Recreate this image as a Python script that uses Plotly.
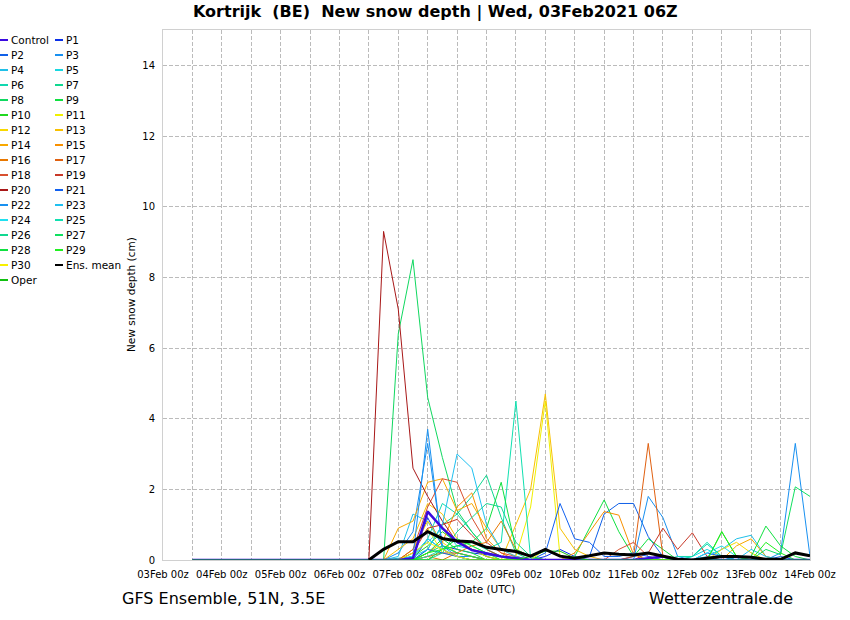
import pandas as pd
import plotly.graph_objects as go

# 6-hourly steps, 03Feb 12z .. 14Feb 00z
times = pd.date_range("2021-02-03 12:00", periods=43, freq="6h")

# new snow depth (cm), one list per member
#          03Feb   04Feb         05Feb         06Feb             07Feb                 08Feb                  09Feb                10Feb                  11Feb                 12Feb               13Feb                 14Feb
control = [0, 0,  0, 0, 0, 0,  0, 0, 0, 0,  0, 0, 0, 0,      0, 0.05, 1.37, 0.9,   0.52, 0.28, 0.2, 0.1,  0.05, 0, 0, 0,       0, 0, 0, 0,           0, 0.05, 0.1, 0,     0, 0, 0, 0,         0, 0, 0, 0,           0]
p1 = [0, 0,  0, 0, 0, 0,  0, 0, 0, 0,  0, 0, 0, 0,      0, 0.1, 1.2, 0.4,     0.3, 0.2, 0.15, 0.1,   0, 0, 0.1, 0.3,       0.1, 0, 0, 0,         0.1, 0.2, 0.1, 0,    0, 0, 0.1, 0,       0, 0, 0, 0,           0]
p2 = [0, 0,  0, 0, 0, 0,  0, 0, 0, 0,  0, 0, 0, 0,      0, 0, 0.6, 0.3,       0.1, 0.1, 0, 0,        0, 0, 0, 0,           0, 0.1, 1.3, 1.6,     1.6, 0.66, 0.1, 0,   0, 0, 0, 0,         0, 0, 0.1, 0,         0]
p3 = [0, 0,  0, 0, 0, 0,  0, 0, 0, 0,  0, 0, 0, 0,      0.2, 0.8, 3.3, 0.4,   0.1, 0.1, 0, 0,        0, 0, 0, 0,           0, 0, 0, 0,           0, 1.8, 1.2, 0.1,    0, 0, 0, 0,         0, 0, 0, 0,           0]
p4 = [0, 0,  0, 0, 0, 0,  0, 0, 0, 0,  0, 0, 0, 0,      0.1, 1.3, 1.1, 0.4,   0.2, 0.1, 0, 0,        0, 0, 0, 0,           0, 0, 0, 0,           0, 0, 0, 0,          0, 0.1, 0.3, 0.6,   0.7, 0.1, 0, 0,       0]
p5 = [0, 0,  0, 0, 0, 0,  0, 0, 0, 0,  0, 0, 0, 0,      0, 0.2, 0.5, 0.9,     0.4, 0.3, 0.1, 0,      0.1, 0, 0, 0,         0, 0, 0, 0,           0, 0, 0, 0,          0.1, 0.3, 0.1, 0,   0, 0, 0, 0,           0]
p6 = [0, 0,  0, 0, 0, 0,  0, 0, 0, 0,  0, 0, 0, 0,      0.05, 0.1, 0.6, 1.6,  1.3, 0.8, 0.3, 0.1,    0, 0, 0, 0,           0, 0, 0, 0,           0, 0, 0, 0.1,        0.1, 0.45, 0.1, 0,  0, 0, 0, 0,           0]
p7 = [0, 0,  0, 0, 0, 0,  0, 0, 0, 0,  0, 0, 0, 0,      0, 0, 0.3, 1.0,       1.3, 1.8, 2.4, 1.2,    0.2, 0, 0, 0,         0, 0, 0, 0,           0, 0, 0, 0,          0, 0, 0, 0,         0, 0, 0, 0,           0]
p8 = [0, 0,  0, 0, 0, 0,  0, 0, 0, 0,  0, 0, 0, 0,      6.4, 8.5, 4.6, 2.9,   1.4, 0.8, 0.3, 0.1,    0, 0, 0, 0,           0, 0, 0, 0,           0, 0, 0, 0,          0, 0, 0, 0,         0, 0, 0, 0,           0]
p9 = [0, 0,  0, 0, 0, 0,  0, 0, 0, 0,  0, 0, 0, 0,      0, 0, 0.2, 0.6,       0.3, 0.2, 0, 0,        0, 0, 0, 0,           0.1, 0.9, 1.7, 0.8,   0.1, 0.6, 0.3, 0,    0, 0, 0, 0,         0, 0, 0, 0,           0]
p10 = [0, 0,  0, 0, 0, 0,  0, 0, 0, 0,  0, 0, 0, 0,     0, 0.1, 0.4, 0.8,     0.5, 0.3, 0.1, 0,      0, 0, 0, 0,           0, 0, 0, 0,           0, 0, 0, 0,          0, 0, 0.8, 0.1,     0, 0, 0, 0,           0]
p11 = [0, 0,  0, 0, 0, 0,  0, 0, 0, 0,  0, 0, 0, 0,     0, 0.3, 0.9, 0.2,     0.1, 0, 0, 0,          0.1, 1.5, 4.5, 0.1,   0.05, 0, 0, 0,        0, 0, 0, 0,          0, 0, 0, 0,         0, 0, 0, 0,           0]
p12 = [0, 0,  0, 0, 0, 0,  0, 0, 0, 0,  0, 0, 0, 0,     0, 0.3, 1.1, 0.5,     0.2, 0.1, 0, 0,        0, 0, 0, 0,           0, 0, 0, 0,           0, 0, 0, 0,          0, 0, 0.3, 0.5,     0.2, 0, 0, 0,         0]
p13 = [0, 0,  0, 0, 0, 0,  0, 0, 0, 0,  0, 0, 0, 0,     0.3, 0.6, 1.6, 1.3,   0.6, 0.3, 0.1, 0,      1.0, 2.0, 4.7, 0.9,   0.3, 0.1, 0, 0,       0, 0, 0, 0,          0, 0, 0, 0,         0, 0, 0, 0,           0]
p14 = [0, 0,  0, 0, 0, 0,  0, 0, 0, 0,  0, 0, 0, 0,     0.9, 1.1, 2.2, 2.3,   1.4, 1.6, 0.9, 0.3,    0.1, 0, 0, 0,         0, 0, 0, 0,           0, 0, 0, 0,          0, 0, 0, 0.4,       0.6, 0.1, 0, 0,       0]
p15 = [0, 0,  0, 0, 0, 0,  0, 0, 0, 0,  0, 0, 0, 0,     0, 0, 0.2, 0.5,       1.5, 1.9, 0.6, 0.2,    0, 0, 0, 0,           0.2, 0.8, 1.37, 1.27, 0.15, 0, 0, 0,       0, 0, 0, 0,         0, 0, 0, 0,           0]
p16 = [0, 0,  0, 0, 0, 0,  0, 0, 0, 0,  0, 0, 0, 0,     0, 0, 0.1, 0,         0.2, 0.4, 0.5, 1.1,    0.3, 0.1, 0, 0,       0, 0, 0, 0,           0, 0, 0, 0,          0, 0, 0, 0,         0, 0, 0, 0,           0]
p17 = [0, 0,  0, 0, 0, 0,  0, 0, 0, 0,  0, 0, 0, 0,     0, 0, 0.1, 0.2,       0.2, 0.1, 0, 0,        0, 0, 0, 0,           0, 0, 0, 0,           0.1, 3.3, 0.1, 0,    0, 0, 0, 0,         0, 0, 0, 0,           0]
p18 = [0, 0,  0, 0, 0, 0,  0, 0, 0, 0,  0, 0, 0, 0,     0, 0.3, 1.5, 2.3,     2.2, 1.2, 0.5, 0.2,    0.1, 0, 0, 0,         0, 0, 0, 0.3,         0.5, 0.1, 0, 0,      0, 0, 0, 0,         0, 0, 0, 0,           0]
p19 = [0, 0,  0, 0, 0, 0,  0, 0, 0, 0,  0, 0, 0, 0,     0, 0.2, 0.9, 1.0,     1.15, 0.7, 0.3, 0.1,   0, 0, 0, 0,           0, 0, 0, 0,           0, 0.2, 0.9, 0.3,    0.77, 0.1, 0, 0,    0, 0, 0, 0,           0]
p20 = [0, 0,  0, 0, 0, 0,  0, 0, 0, 0,  0, 0, 0, 9.3,   7.1, 2.6, 1.8, 1.1,   0.5, 0.3, 0.2, 0.1,    0, 0, 0, 0,           0, 0, 0, 0,           0, 0, 0, 0,          0, 0, 0, 0,         0, 0, 0, 0,           0]
p21 = [0, 0,  0, 0, 0, 0,  0, 0, 0, 0,  0, 0, 0, 0,     0, 0, 0.3, 0.2,       0.1, 0, 0, 0,          0, 0, 0.2, 1.6,       0.6, 0.5, 0.1, 0.1,   0.2, 0.1, 0, 0,      0, 0.2, 0.1, 0,     0, 0, 0, 0,           0]
p22 = [0, 0,  0, 0, 0, 0,  0, 0, 0, 0,  0, 0, 0, 0,     0, 0.1, 3.7, 0.3,     0.1, 0, 0, 0,          0, 0, 0, 0,           0, 0, 0, 0,           0, 0, 0, 0,          0, 0, 0, 0,         0, 0, 0.2, 3.3,       0.1]
p23 = [0, 0,  0, 0, 0, 0,  0, 0, 0, 0,  0, 0, 0, 0,     0, 0.1, 0.3, 1.0,     3.0, 2.6, 1.0, 0.3,    0.1, 0, 0, 0,         0, 0, 0, 0,           0, 0, 0, 0,          0, 0, 0, 0,         0.3, 0.1, 0, 0,       0]
p24 = [0, 0,  0, 0, 0, 0,  0, 0, 0, 0,  0, 0, 0, 0,     0, 0.1, 0.6, 0.3,     0.6, 0.4, 0.2, 0.1,    0, 0, 0, 0,           0, 0, 0, 0,           0, 0, 0, 0,          0, 0.2, 0.4, 0.1,   0, 0, 0, 0,           0]
p25 = [0, 0,  0, 0, 0, 0,  0, 0, 0, 0,  0, 0, 0, 0,     0, 0, 0.1, 0.3,       0.4, 0.5, 0.3, 0.5,    4.5, 0.05, 0, 0,      0, 0, 0, 0,           0, 0, 0, 0,          0.1, 0.5, 0.1, 0,   0, 0, 0, 0,           0]
p26 = [0, 0,  0, 0, 0, 0,  0, 0, 0, 0,  0, 0, 0, 0,     0, 0, 0, 0.2,         0.8, 1.2, 1.6, 1.5,    0.5, 0.1, 0, 0,       0, 0, 0, 0,           0, 0, 0, 0,          0, 0, 0, 0,         0, 0, 0, 0,           0]
p27 = [0, 0,  0, 0, 0, 0,  0, 0, 0, 0,  0, 0, 0, 0,     0, 0, 0.2, 0.4,       0.2, 0.1, 0, 0,        0, 0, 0, 0,           0, 0, 0, 0,           0, 0, 0, 0,          0, 0, 0, 0,         0, 0.3, 0.15, 2.07,   1.8]
p28 = [0, 0,  0, 0, 0, 0,  0, 0, 0, 0,  0, 0, 0, 0,     0, 0, 0, 0.3,         0.4, 0.5, 0.9, 2.2,    0.3, 0.1, 0, 0,       0, 0, 0, 0,           0, 0, 0, 0,          0, 0, 0, 0,         0.1, 0.96, 0.4, 0.1,  0]
p29 = [0, 0,  0, 0, 0, 0,  0, 0, 0, 0,  0, 0, 0, 0,     0, 0, 0.2, 0.3,       0.6, 0.4, 0.2, 0,      0, 0, 0, 0,           0, 0, 0, 0,           0, 0, 0, 0,          0, 0, 0.8, 0.1,     0, 0.5, 0.2, 0,       0]
p30 = [0, 0,  0, 0, 0, 0,  0, 0, 0, 0,  0, 0, 0, 0,     0, 0.2, 0.5, 0.3,     0.1, 0, 0, 0,          0, 0, 0.3, 0.1,       0, 0, 0, 0,           0, 0, 0, 0,          0, 0, 0, 0,         0, 0, 0, 0,           0]
oper = [0, 0,  0, 0, 0, 0,  0, 0, 0, 0,  0, 0, 0, 0,    0, 0, 0, 0,           0, 0, 0, 0,            0, 0.1, 0.25, 0.25,   0.05, 0, 0, 0,        0, 0, 0, 0,          0, 0, 0, 0,         0, 0, 0, 0,           0]
ens_mean = [None, None,  None, None, None, None,  None, None, None, None,  None, None, 0, 0.3,
            0.52, 0.52, 0.8, 0.61,   0.54, 0.52, 0.36, 0.3,   0.24, 0.11, 0.3, 0.11,   0.05, 0.12, 0.2, 0.16,
            0.14, 0.2, 0.1, 0.02,    0, 0.04, 0.1, 0.1,       0.08, 0.02, 0.02, 0.2,   0.12]

names = ["Control", "P1", "P2", "P3", "P4", "P5", "P6", "P7", "P8", "P9", "P10",
         "P11", "P12", "P13", "P14", "P15", "P16", "P17", "P18", "P19", "P20",
         "P21", "P22", "P23", "P24", "P25", "P26", "P27", "P28", "P29", "P30", "Oper"]
series = [control, p1, p2, p3, p4, p5, p6, p7, p8, p9, p10,
          p11, p12, p13, p14, p15, p16, p17, p18, p19, p20,
          p21, p22, p23, p24, p25, p26, p27, p28, p29, p30, oper]
colors = ["#3a0ae0", "#0a30e8", "#1060e8", "#1890f0", "#20c0e8", "#18d8e0", "#10d8b0", "#10d890",
          "#10d860", "#10e040", "#20d820", "#f0f000", "#f8d800", "#f8c000", "#f8a800", "#f89000",
          "#e87800", "#e06010", "#d85030", "#c83828", "#a81818", "#1060f0", "#1890f0", "#20c0f0",
          "#20e0f0", "#10e0b0", "#10d890", "#10e060", "#10e040", "#20f020", "#f8f000", "#10c010"]

fig = go.Figure()

# members first, then control, oper and the mean on top
order = list(range(1, 31)) + [0, 31]
for k in order:
    fig.add_trace(go.Scatter(x=times, y=series[k], mode="lines", name=names[k],
                             line=dict(color=colors[k], width=2.5 if k == 0 else 1),
                             showlegend=False))
fig.add_trace(go.Scatter(x=times, y=ens_mean, mode="lines", name="Ens. mean",
                         line=dict(color="black", width=3), showlegend=False))

L, R, T, B = 163, 810, 30, 560  # plot area in pixels


def px(x):
    return (x - L) / (R - L)


def py(y):
    return (B - y) / (B - T)


ann = []
shapes = []

# two column legend, drawn by hand
legend_names = names[:-1] + ["Ens. mean", "Oper"]
legend_cols = colors[:-1] + ["#000000", colors[-1]]
for j, (nm, c) in enumerate(zip(legend_names, legend_cols)):
    row, col = divmod(j, 2)
    yy = 40 + 15 * row
    x0 = 0 if col == 0 else 55
    shapes.append(dict(type="line", xref="paper", yref="paper", x0=px(x0), x1=px(x0 + 8),
                       y0=py(yy), y1=py(yy), line=dict(color=c, width=2)))
    ann.append(dict(text=nm, xref="paper", yref="paper", x=px(x0 + 9), y=py(yy),
                    xanchor="left", yanchor="middle", showarrow=False,
                    font=dict(size=10.5, color="black")))


def label(text, x, y, size, anchor="center", **kw):
    return dict(text=text, x=px(x), y=py(y), xref="paper", yref="paper", showarrow=False,
                xanchor=anchor, yanchor="middle", font=dict(size=size, color="black"), **kw)


ann += [
    label("<b>Kortrijk  (BE)  New snow depth | Wed, 03Feb2021 06Z</b>", 435, 12, 16),
    label("Date (UTC)", 486, 589, 10.5),
    label("New snow depth (cm)", 131, 295, 10.5, textangle=-90),
    label("GFS Ensemble, 51N, 3.5E", 120, 598, 16, anchor="left"),
    label("Wetterzentrale.de", 795, 598, 16, anchor="right"),
]

grid = "#bbbbbb"
fig.update_layout(
    width=850, height=620,
    margin=dict(l=L, r=850 - R, t=T, b=620 - B),
    paper_bgcolor="white", plot_bgcolor="white",
    font=dict(family="DejaVu Sans", color="black"),
    annotations=ann, shapes=shapes,
    xaxis=dict(type="date", range=["2021-02-03", "2021-02-14"],
               tick0="2021-02-03", dtick=86400000, tickformat="%d%b %Hz",
               showgrid=True, gridcolor=grid, griddash="4px,2px", gridwidth=1,
               minor=dict(dtick=43200000, showgrid=True, gridcolor=grid, griddash="4px,2px"),
               showline=True, mirror=True, linecolor="#d0d0d0", ticks="",
               ticklabelstandoff=5, tickfont=dict(size=10)),
    yaxis=dict(range=[0, 15], tick0=0, dtick=2, showgrid=True, gridcolor=grid,
               griddash="4px,2px", zeroline=False, showline=True, mirror=True,
               linecolor="#d0d0d0", ticks="", ticklabelstandoff=5, tickfont=dict(size=10)),
)

# page has a default 8px body margin, drop it so the figure sits at 0,0
fig.write_html("out.html", config={"displayModeBar": False},
               post_script="document.body.style.margin='0';")
